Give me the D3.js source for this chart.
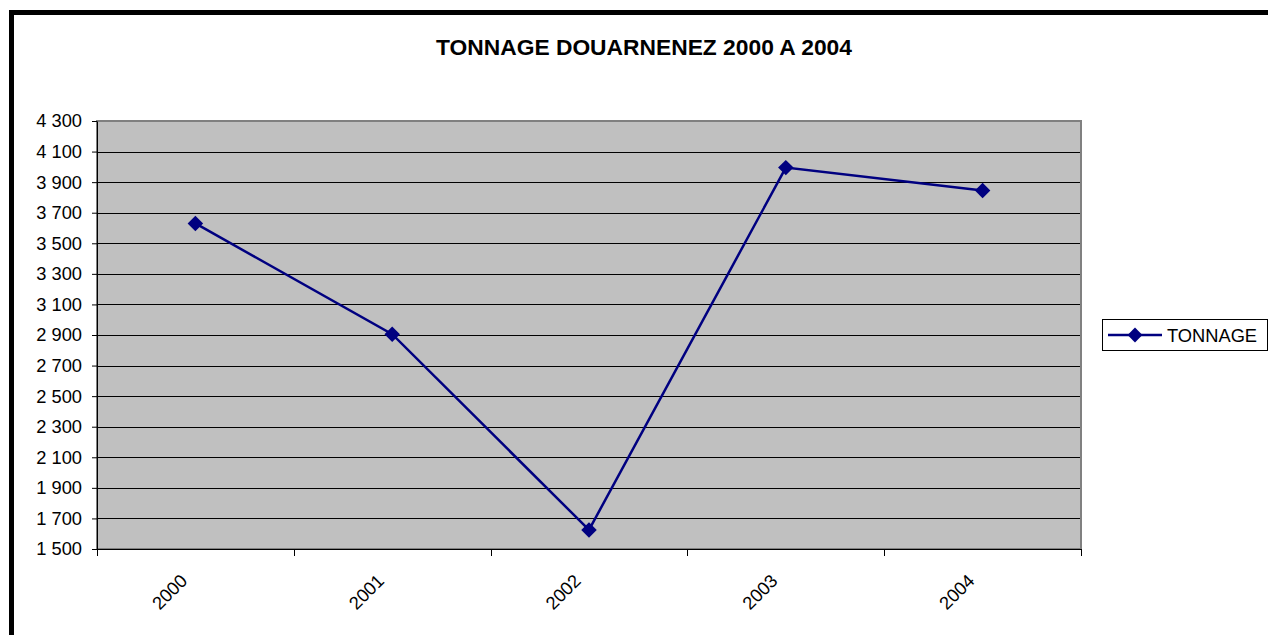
<!DOCTYPE html>
<html>
<head>
<meta charset="utf-8">
<script src="https://cdn.jsdelivr.net/npm/d3@7"></script>
<style>
  body { margin: 0; background: #fff; }
  svg { display: block; font-family: Arial, "Liberation Sans", sans-serif; }
</style>
</head>
<body>
<script>
// donnees
const years = ["2000", "2001", "2002", "2003", "2004"];
const tonnage = [3630, 2905, 1625, 3995, 3845];
const yTicks = [1500, 1700, 1900, 2100, 2300, 2500, 2700, 2900, 3100, 3300, 3500, 3700, 3900, 4100, 4300];
const title = "TONNAGE DOUARNENEZ 2000 A 2004";
const seriesName = "TONNAGE";

const W = 1268, H = 635;
const plot = {left: 97, top: 121, right: 1081, bottom: 549};
const fs = 18.3;

const svg = d3.select("body").append("svg")
    .attr("width", W)
    .attr("height", H);

// cadre
svg.append("rect")
    .attr("x", 11.5).attr("y", 12.5)
    .attr("width", 1400).attr("height", 800)
    .attr("fill", "#fff")
    .attr("stroke", "#000")
    .attr("stroke-width", 5);

const x = d3.scaleBand()
    .domain(years)
    .range([plot.left, plot.right]);

const y = d3.scaleLinear()
    .domain([1500, 4300])
    .range([plot.bottom, plot.top]);

// zone de tracé
svg.append("rect")
    .attr("x", plot.left).attr("y", plot.top)
    .attr("width", plot.right - plot.left)
    .attr("height", plot.bottom - plot.top)
    .attr("fill", "#c0c0c0")
    .attr("stroke", "#808080")
    .attr("stroke-width", 2);

// grille
svg.append("g")
    .selectAll("line")
    .data(yTicks.slice(1, -1))
    .join("line")
    .attr("x1", plot.left).attr("x2", plot.right - 1)
    .attr("y1", d => Math.round(y(d)) + 0.5)
    .attr("y2", d => Math.round(y(d)) + 0.5)
    .attr("stroke", "#000")
    .attr("stroke-width", 1);

// axe Y
const fmt = d => d3.format(",")(d).replace(",", " ");
const yAxis = svg.append("g")
    .attr("transform", `translate(${plot.left},0)`)
    .call(d3.axisLeft(y).tickValues(yTicks).tickFormat(fmt).tickSize(5).tickSizeOuter(0));
yAxis.select(".domain").attr("stroke", "#000");
yAxis.selectAll("text")
    .attr("font-size", fs)
    .attr("font-family", "Arial, 'Liberation Sans', sans-serif")
    .attr("fill", "#000")
    .attr("x", -15);

// axe X
const xAxis = svg.append("g")
    .attr("transform", `translate(0,${plot.bottom})`);
xAxis.append("line")
    .attr("x1", plot.left).attr("x2", plot.right)
    .attr("y1", 0.5).attr("y2", 0.5)
    .attr("stroke", "#000");
const bounds = years.map(d => x(d)).concat([plot.right]);
xAxis.selectAll("line.tick")
    .data(bounds)
    .join("line")
    .attr("class", "tick")
    .attr("x1", d => Math.round(d) + 0.5).attr("x2", d => Math.round(d) + 0.5)
    .attr("y1", 0).attr("y2", 7)
    .attr("stroke", "#000");
xAxis.selectAll("text")
    .data(years)
    .join("text")
    .attr("transform", d => `translate(${x(d) + x.bandwidth() / 2 - 7},${33}) rotate(-45)`)
    .attr("text-anchor", "end")
    .attr("font-size", fs)
    .text(d => d);

// courbe
const pts = years.map((d, i) => [x(d) + x.bandwidth() / 2, y(tonnage[i])]);
svg.append("path")
    .datum(pts)
    .attr("fill", "none")
    .attr("stroke", "#000080")
    .attr("stroke-width", 2.5)
    .attr("d", d3.line());

svg.append("g")
    .selectAll("path")
    .data(pts)
    .join("path")
    .attr("transform", d => `translate(${d[0]},${d[1]}) rotate(45)`)
    .attr("d", d3.symbol().type(d3.symbolSquare).size(120))
    .attr("fill", "#000080");

// titre
svg.append("text")
    .attr("x", 644).attr("y", 55)
    .attr("text-anchor", "middle")
    .attr("font-size", 22.8)
    .attr("font-weight", "bold")
    .text(title);

// legende
const lg = svg.append("g").attr("transform", "translate(1102,319)");
lg.append("rect")
    .attr("x", 0.5).attr("y", 0.5)
    .attr("width", 165).attr("height", 31)
    .attr("fill", "#fff")
    .attr("stroke", "#000");
lg.append("line")
    .attr("x1", 6).attr("x2", 60)
    .attr("y1", 16).attr("y2", 16)
    .attr("stroke", "#000080")
    .attr("stroke-width", 2.5);
lg.append("path")
    .attr("transform", "translate(33,16) rotate(45)")
    .attr("d", d3.symbol().type(d3.symbolSquare).size(110))
    .attr("fill", "#000080");
lg.append("text")
    .attr("x", 65).attr("y", 22.5)
    .attr("font-size", fs)
    .text(seriesName);
</script>
</body>
</html>
